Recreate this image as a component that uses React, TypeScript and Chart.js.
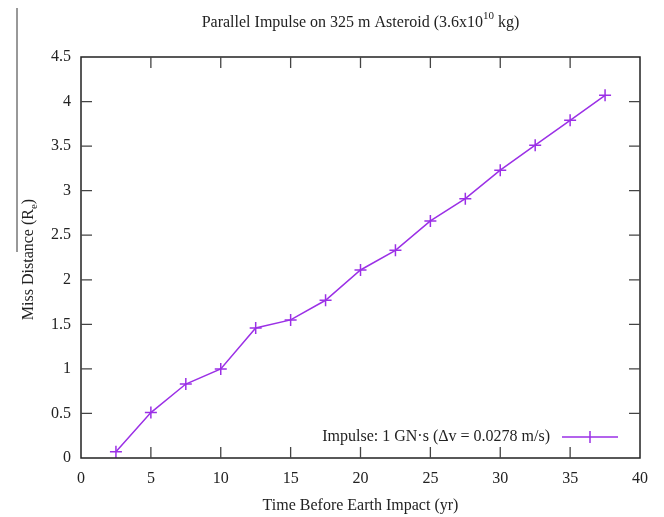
import React, { useEffect, useRef } from "react";
import { Chart, registerables } from "chart.js";

Chart.register(...registerables);

const timeYears = [2.5, 5, 7.5, 10, 12.5, 15, 17.5, 20, 22.5, 25, 27.5, 30, 32.5, 35, 37.5];
const missDistance = [0.07, 0.51, 0.83, 1.0, 1.46, 1.55, 1.77, 2.11, 2.33, 2.66, 2.91, 3.23, 3.51, 3.79, 4.07];
const seriesLabel = "Impulse: 1 GN\u00b7s (\u0394v = 0.0278 m/s)";
const titleMain = "Parallel Impulse on 325 m Asteroid (3.6x10";
const titleSup = "10";
const titleEnd = " kg)";
const xTitle = "Time Before Earth Impact (yr)";
const yTitleMain = "Miss Distance (R";
const yTitleSub = "e";
const yTitleEnd = ")";

const COLOR = "#9b30e6";
const FONT = "'Liberation Serif', 'Times New Roman', serif";
const FS = 16;
const FS_SMALL = 11;

const decorPlugin = {
  id: "decor",
  afterDraw(chart: any) {
    const { ctx, chartArea } = chart;
    const { left, right, top, bottom } = chartArea;
    const xs = chart.scales.x;
    const ys = chart.scales.y;
    ctx.save();
    // frame
    ctx.strokeStyle = "#222";
    ctx.lineWidth = 1.5;
    ctx.strokeRect(left, top, right - left, bottom - top);
    // inward ticks
    const tl = 11;
    ctx.lineWidth = 1.3;
    ctx.strokeStyle = "#444";
    xs.ticks.forEach((t: any) => {
      const px = xs.getPixelForValue(t.value);
      if (px <= left + 1 || px >= right - 1) return;
      ctx.beginPath();
      ctx.moveTo(px, bottom);
      ctx.lineTo(px, bottom - tl);
      ctx.moveTo(px, top);
      ctx.lineTo(px, top + tl);
      ctx.stroke();
    });
    ys.ticks.forEach((t: any) => {
      const py = ys.getPixelForValue(t.value);
      if (py <= top + 1 || py >= bottom - 1) return;
      ctx.beginPath();
      ctx.moveTo(left, py);
      ctx.lineTo(left + tl, py);
      ctx.moveTo(right, py);
      ctx.lineTo(right - tl, py);
      ctx.stroke();
    });

    ctx.fillStyle = "#222";
    // title
    const cx = (left + right) / 2;
    ctx.textBaseline = "middle";
    ctx.font = `${FS}px ${FONT}`;
    const w1 = ctx.measureText(titleMain).width;
    ctx.font = `${FS_SMALL}px ${FONT}`;
    const w2 = ctx.measureText(titleSup).width;
    ctx.font = `${FS}px ${FONT}`;
    const w3 = ctx.measureText(titleEnd).width;
    const tx = cx - (w1 + w2 + w3) / 2;
    ctx.textAlign = "left";
    ctx.fillText(titleMain, tx, 23);
    ctx.font = `${FS_SMALL}px ${FONT}`;
    ctx.fillText(titleSup, tx + w1, 16);
    ctx.font = `${FS}px ${FONT}`;
    ctx.fillText(titleEnd, tx + w1 + w2, 23);

    // x title
    ctx.textAlign = "center";
    ctx.fillText(xTitle, cx, 506);

    // y title (rotated)
    const cy = (top + bottom) / 2;
    ctx.save();
    ctx.translate(29, cy + 2);
    ctx.rotate(-Math.PI / 2);
    ctx.textAlign = "left";
    ctx.font = `${FS}px ${FONT}`;
    const a1 = ctx.measureText(yTitleMain).width;
    ctx.font = `${FS_SMALL}px ${FONT}`;
    const a2 = ctx.measureText(yTitleSub).width;
    ctx.font = `${FS}px ${FONT}`;
    const a3 = ctx.measureText(yTitleEnd).width;
    const sx = -(a1 + a2 + a3) / 2;
    ctx.fillText(yTitleMain, sx, 0);
    ctx.font = `${FS_SMALL}px ${FONT}`;
    ctx.fillText(yTitleSub, sx + a1, 5);
    ctx.font = `${FS}px ${FONT}`;
    ctx.fillText(yTitleEnd, sx + a1 + a2, 0);
    ctx.restore();

    // overline artifact next to y title
    ctx.strokeStyle = "#333";
    ctx.lineWidth = 1;
    ctx.beginPath();
    ctx.moveTo(17, 8);
    ctx.lineTo(17, 252);
    ctx.stroke();

    // legend inside plot (bottom right)
    const ly = 437;
    const lx2 = right - 22;
    const lx1 = lx2 - 56;
    ctx.textAlign = "right";
    ctx.font = `${FS}px ${FONT}`;
    ctx.fillStyle = "#222";
    ctx.fillText(seriesLabel, lx1 - 12, ly);
    ctx.strokeStyle = COLOR;
    ctx.lineWidth = 1.5;
    ctx.beginPath();
    ctx.moveTo(lx1, ly);
    ctx.lineTo(lx2, ly);
    const mx = (lx1 + lx2) / 2;
    ctx.moveTo(mx - 6, ly);
    ctx.lineTo(mx + 6, ly);
    ctx.moveTo(mx, ly - 6);
    ctx.lineTo(mx, ly + 6);
    ctx.stroke();
    ctx.restore();
  },
};

export default function App() {
  const ref = useRef<HTMLCanvasElement | null>(null);
  useEffect(() => {
    document.body.style.margin = "0";
    const canvas = ref.current;
    if (!canvas) return;
    const chart = new Chart(canvas, {
      type: "line",
      data: {
        datasets: [
          {
            label: seriesLabel,
            data: timeYears.map((x, i) => ({ x, y: missDistance[i] })),
            borderColor: COLOR,
            backgroundColor: COLOR,
            borderWidth: 1.5,
            pointStyle: "cross",
            pointRadius: 6,
            pointBorderWidth: 1.5,
            pointBorderColor: COLOR,
            tension: 0,
          },
        ],
      },
      options: {
        animation: false,
        responsive: false,
        devicePixelRatio: 1,
        layout: { padding: { top: 57, right: 24, left: 0, bottom: 0 } },
        plugins: {
          legend: { display: false },
          title: { display: false },
          tooltip: { enabled: false },
        },
        scales: {
          x: {
            type: "linear",
            min: 0,
            max: 40,
            grid: { display: false, drawTicks: false },
            border: { display: false },
            ticks: {
              stepSize: 5,
              padding: 11,
              color: "#222",
              font: { family: FONT, size: FS },
              maxRotation: 0,
              callback: (v: any) => String(Number(v)),
            },
            afterFit: (s: any) => {
              s.height = 59;
            },
          },
          y: {
            type: "linear",
            min: 0,
            max: 4.5,
            grid: { display: false, drawTicks: false },
            border: { display: false },
            ticks: {
              stepSize: 0.5,
              padding: 10,
              color: "#222",
              font: { family: FONT, size: FS },
              callback: (v: any) => String(Number(v)),
            },
            afterFit: (s: any) => {
              s.width = 81;
            },
          },
        },
      },
      plugins: [decorPlugin],
    });
    return () => chart.destroy();
  }, []);
  return (
    <div style={{ width: 664, height: 517, background: "#fff" }}>
      <canvas ref={ref} width={664} height={517} style={{ display: "block" }} />
    </div>
  );
}
